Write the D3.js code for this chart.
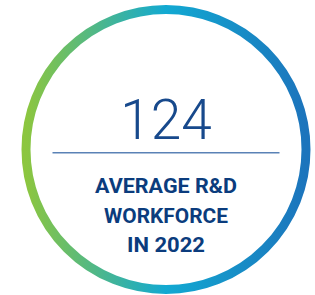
<!DOCTYPE html>
<html>
<head>
<meta charset="utf-8">
<script src="https://cdn.jsdelivr.net/npm/d3@7"></script>
<style>
  body { margin: 0; background: #fff; }
</style>
</head>
<body>
<svg id="stat" width="315" height="295"></svg>
<script>
// stat data
var statValue = ['124'];
var labelLines = ['AVERAGE R&D', 'WORKFORCE', 'IN 2022'];
var gradStops = [
  {offset: 0, color: '#8cc63f'},
  {offset: 0.5, color: '#12a9d2'},
  {offset: 1, color: '#1c74bc'}
];

var svg = d3.select('#stat');
var cx = 166, cy = 149.5, r = 140;

var grad = svg.append('defs')
  .append('linearGradient')
  .attr('id', 'ring')
  .attr('x1', '0%').attr('x2', '100%')
  .attr('y1', '0%').attr('y2', '0%');

grad.selectAll('stop').data(gradStops)
  .enter().append('stop')
  .attr('offset', function(d){ return d.offset })
  .attr('stop-color', function(d){ return d.color });

svg.append('circle')
  .attr('cx', cx).attr('cy', cy).attr('r', r)
  .attr('fill', 'none')
  .attr('stroke', 'url(#ring)')
  .attr('stroke-width', 9);

// big number
svg.selectAll('.value').data(statValue)
  .enter().append('text')
  .attr('class', 'value')
  .attr('x', cx).attr('y', 139.3)
  .attr('text-anchor', 'middle')
  .style('font-family', 'Roboto')
  .style('font-weight', 300)
  .style('font-size', '55px')
  .attr('fill', '#17498c')
  .text(function(d){ return d });

// divider
svg.append('line')
  .attr('x1', 52.5).attr('x2', 279.5)
  .attr('y1', 152.7).attr('y2', 152.7)
  .attr('stroke', '#5a82b6')
  .attr('stroke-width', 1.4);

// label lines
var widths = [142, 124, 78];
var y = d3.scaleLinear().domain([0, 2]).range([193.3, 252]);

svg.selectAll('.label').data(labelLines)
  .enter().append('text')
  .attr('class', 'label')
  .attr('x', cx)
  .attr('y', function(d, i){ return y(i) })
  .attr('text-anchor', 'middle')
  .attr('textLength', function(d, i){ return widths[i] })
  .attr('lengthAdjust', 'spacingAndGlyphs')
  .style('font-family', 'Roboto')
  .style('font-weight', 700)
  .style('font-size', '21px')
  .attr('fill', '#0b3c7d')
  .text(function(d){ return d });
</script>
</body>
</html>
